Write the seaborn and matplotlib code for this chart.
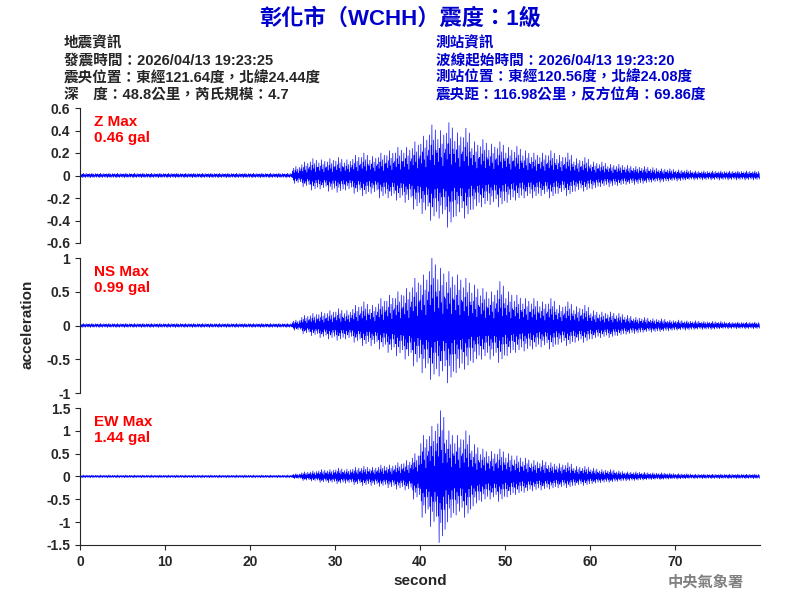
import matplotlib
matplotlib.use("Agg")
import matplotlib.pyplot as plt
import seaborn as sns

sns.set_style("ticks")
plt.rcParams['font.family'] = ['Liberation Sans', 'Noto Sans CJK TC', 'DejaVu Sans']
plt.rcParams['axes.unicode_minus'] = False

# per-second upper / lower envelope (0..79 s)
seconds = list(range(80))
z_top = [0.02]*25 + [0.08, 0.12, 0.15, 0.14, 0.15, 0.16, 0.14, 0.18, 0.2, 0.17,
                     0.2, 0.22, 0.25, 0.25, 0.3, 0.35, 0.45, 0.4, 0.47, 0.38,
                     0.42, 0.3, 0.32, 0.28, 0.3, 0.25, 0.26, 0.22, 0.2, 0.2,
                     0.22, 0.18, 0.2, 0.15, 0.16, 0.12, 0.12, 0.1, 0.1, 0.09,
                     0.08, 0.08, 0.07, 0.06, 0.06, 0.05, 0.05, 0.04, 0.04, 0.04,
                     0.04, 0.04, 0.04, 0.04, 0.04]
z_bot = [-0.02]*25 + [-0.07, -0.1, -0.13, -0.12, -0.14, -0.15, -0.13, -0.16, -0.18, -0.16,
                      -0.2, -0.2, -0.22, -0.24, -0.3, -0.34, -0.4, -0.38, -0.46, -0.36,
                      -0.38, -0.3, -0.28, -0.26, -0.28, -0.24, -0.22, -0.2, -0.2, -0.18,
                      -0.2, -0.16, -0.18, -0.14, -0.14, -0.12, -0.1, -0.1, -0.09, -0.08,
                      -0.08, -0.07, -0.06, -0.06, -0.05, -0.05, -0.04, -0.04, -0.04, -0.04,
                      -0.04, -0.04, -0.04, -0.04, -0.04]
ns_top = [0.03]*25 + [0.08, 0.15, 0.18, 0.2, 0.22, 0.25, 0.22, 0.3, 0.35, 0.3,
                      0.4, 0.45, 0.5, 0.55, 0.7, 0.75, 1.0, 0.85, 0.8, 0.75,
                      0.7, 0.6, 0.55, 0.5, 0.65, 0.5, 0.45, 0.4, 0.4, 0.35,
                      0.4, 0.3, 0.35, 0.28, 0.3, 0.22, 0.2, 0.2, 0.18, 0.15,
                      0.12, 0.12, 0.1, 0.1, 0.08, 0.08, 0.07, 0.07, 0.06, 0.06,
                      0.06, 0.05, 0.05, 0.05, 0.05]
ns_bot = [-0.03]*25 + [-0.07, -0.12, -0.15, -0.18, -0.2, -0.22, -0.2, -0.25, -0.3, -0.3,
                       -0.35, -0.4, -0.45, -0.5, -0.6, -0.7, -0.8, -0.75, -0.85, -0.7,
                       -0.65, -0.55, -0.5, -0.5, -0.55, -0.45, -0.4, -0.38, -0.35, -0.32,
                       -0.35, -0.28, -0.3, -0.25, -0.25, -0.2, -0.18, -0.18, -0.15, -0.13,
                       -0.12, -0.1, -0.1, -0.09, -0.08, -0.07, -0.07, -0.06, -0.06, -0.06,
                       -0.05, -0.05, -0.05, -0.05, -0.05]
ew_top = [0.03]*25 + [0.06, 0.1, 0.12, 0.15, 0.15, 0.18, 0.16, 0.2, 0.22, 0.2,
                      0.25, 0.25, 0.3, 0.35, 0.5, 0.9, 1.1, 1.44, 1.0, 0.9,
                      1.0, 0.7, 0.6, 0.55, 0.6, 0.5, 0.45, 0.4, 0.35, 0.35,
                      0.3, 0.28, 0.3, 0.22, 0.22, 0.18, 0.15, 0.15, 0.12, 0.1,
                      0.1, 0.09, 0.08, 0.08, 0.07, 0.06, 0.06, 0.05, 0.05, 0.05,
                      0.05, 0.05, 0.05, 0.05, 0.05]
ew_bot = [-0.03]*25 + [-0.05, -0.09, -0.1, -0.13, -0.14, -0.16, -0.15, -0.18, -0.2, -0.2,
                       -0.22, -0.25, -0.28, -0.3, -0.5, -0.9, -1.1, -1.45, -1.0, -0.85,
                       -0.9, -0.65, -0.55, -0.5, -0.55, -0.45, -0.4, -0.35, -0.32, -0.3,
                       -0.28, -0.25, -0.25, -0.2, -0.2, -0.16, -0.14, -0.13, -0.11, -0.1,
                       -0.09, -0.08, -0.07, -0.07, -0.06, -0.06, -0.05, -0.05, -0.05, -0.05,
                       -0.05, -0.05, -0.05, -0.05, -0.05]

# share of the envelope reached by each swing inside one second
swing = [0.5, -0.3, 0.8, -0.6, 0.3, -1.0, 0.6, -0.4, 1.0, -0.7, 0.4, -0.5,
         0.7, -0.9, 0.2, -0.3, 0.9, -0.5, 0.5, -0.8]

panels = [("Z Max\n0.46 gal", z_top, z_bot, 0.6, [-0.6, -0.4, -0.2, 0, 0.2, 0.4, 0.6]),
          ("NS Max\n0.99 gal", ns_top, ns_bot, 1.0, [-1, -0.5, 0, 0.5, 1]),
          ("EW Max\n1.44 gal", ew_top, ew_bot, 1.5, [-1.5, -1, -0.5, 0, 0.5, 1, 1.5])]

fig = plt.figure(figsize=(8, 6), dpi=100)
boxes = [(0.10, 0.595, 0.85, 0.225), (0.10, 0.345, 0.85, 0.225), (0.10, 0.092, 0.85, 0.228)]

for i, (label, top, bot, lim, ticks) in enumerate(panels):
    ax = fig.add_axes(boxes[i])
    xs, ys = [], []
    for s, t, b in zip(seconds, top, bot):
        for k, f in enumerate(swing):
            xs.append(s + k / len(swing))
            ys.append(t * f if f > 0 else -b * f)
    ax.plot(xs, ys, color='blue', linewidth=0.5)
    ax.set_xlim(0, 80)
    ax.set_ylim(-lim, lim)
    ax.set_yticks(ticks)
    ax.set_yticklabels([f"{t:g}" for t in ticks], fontsize=10, fontweight='bold')
    ax.text(0.02, 0.95, label, transform=ax.transAxes, color='red', fontsize=11,
            fontweight='bold', va='top')
    sns.despine(ax=ax, top=True, right=True, bottom=(i < 2))
    if i < 2:
        ax.set_xticks([])
    else:
        ax.set_xticks([0, 10, 20, 30, 40, 50, 60, 70])
        ax.set_xticklabels(['0', '10', '20', '30', '40', '50', '60', '70'],
                           fontsize=10, fontweight='bold')
        ax.set_xlabel("second", fontsize=11, fontweight='bold')

fig.text(0.035, 0.46, "acceleration", rotation=90, fontsize=11, fontweight='bold',
         va='center', ha='center')

fig.text(0.5, 0.968, "彰化市（WCHH）震度：1級", color='#0000cc', fontsize=16,
         fontweight='bold', ha='center', va='center')
left = ["地震資訊", "發震時間：2026/04/13 19:23:25",
        "震央位置：東經121.64度，北緯24.44度", "深　度：48.8公里，芮氏規模：4.7"]
right = ["測站資訊", "波線起始時間：2026/04/13 19:23:20",
         "測站位置：東經120.56度，北緯24.08度", "震央距：116.98公里，反方位角：69.86度"]
for j in range(4):
    y = 0.927 - j * 0.0285
    fig.text(0.08, y, left[j], fontsize=10.5, fontweight='bold', va='center')
    fig.text(0.545, y, right[j], fontsize=10.5, fontweight='bold', va='center',
             color='#0000cc')
fig.text(0.93, 0.03, "中央氣象署", color='gray', fontsize=11, fontweight='bold',
         ha='right', va='center')

fig.savefig("out.png", dpi=100)
